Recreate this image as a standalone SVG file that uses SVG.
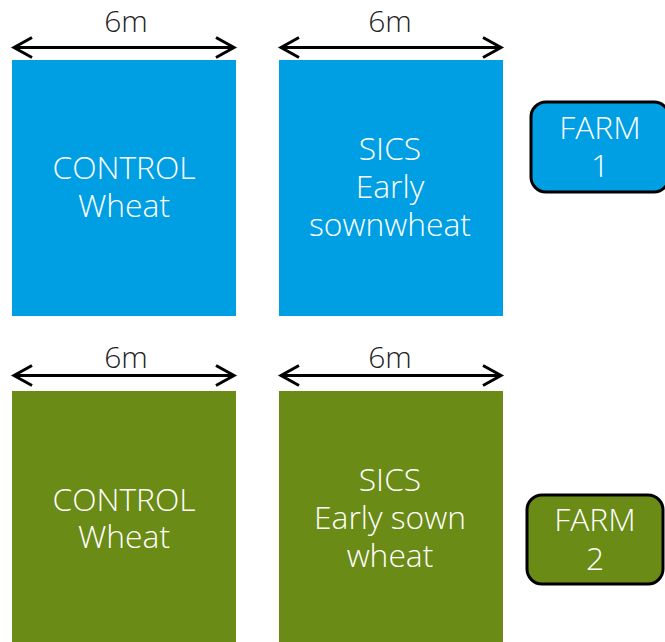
<svg xmlns="http://www.w3.org/2000/svg" width="665" height="642" viewBox="0 0 665 642">
<defs>
<marker id="chev" viewBox="-20 -12 24 24" markerWidth="24" markerHeight="24" refX="0" refY="0" orient="auto-start-reverse" markerUnits="userSpaceOnUse">
<path d="M-18,-10 L0,0 L-18,10" fill="none" stroke="#000" stroke-width="3" stroke-linejoin="miter"/>
</marker>
</defs>
<style>
.blue{fill:#009FE3}
.green{fill:#6A8B16}
.t{font-family:"Open Sans","Noto Sans","Liberation Sans",sans-serif;font-weight:300;font-size:31.8px;fill:#fff;text-anchor:middle}
.dim{font-family:"Open Sans","Noto Sans","Liberation Sans",sans-serif;font-weight:300;font-size:30px;fill:#222;text-anchor:middle}
.arr{stroke:#000;stroke-width:3;fill:none;marker-start:url(#chev);marker-end:url(#chev)}
.farm{stroke:#000;stroke-width:3}
</style>
<rect width="665" height="642" fill="#fff"/>
<g id="connectors">
<line class="arr" x1="14" y1="47.5" x2="234" y2="47.5"/>
<line class="arr" x1="281" y1="47.5" x2="501" y2="47.5"/>
<line class="arr" x1="14" y1="375.5" x2="234" y2="375.5"/>
<line class="arr" x1="281" y1="375.5" x2="501" y2="375.5"/>
</g>
<g id="dim-labels">
<text class="dim" x="126" y="32">6m</text>
<text class="dim" x="390" y="32">6m</text>
<text class="dim" x="126" y="368">6m</text>
<text class="dim" x="390" y="368">6m</text>
</g>
<g id="farm1-control">
<rect class="blue" x="12" y="60" width="224" height="256"/>
<text class="t" x="124" y="179">CONTROL</text>
<text class="t" x="124" y="217">Wheat</text>
</g>
<g id="farm1-sics">
<rect class="blue" x="279" y="60" width="224" height="256"/>
<text class="t" x="390" y="160">SICS</text>
<text class="t" x="390" y="198">Early</text>
<text class="t" x="390" y="236">sownwheat</text>
</g>
<g id="farm1-label">
<rect class="blue farm" x="531" y="102" width="138" height="90" rx="15"/>
<text class="t" x="600" y="139">FARM</text>
<text class="t" x="600" y="177">1</text>
</g>
<g id="farm2-control">
<rect class="green" x="12" y="391" width="224" height="251"/>
<text class="t" x="124" y="511">CONTROL</text>
<text class="t" x="124" y="548">Wheat</text>
</g>
<g id="farm2-sics">
<rect class="green" x="279" y="391" width="224" height="251"/>
<text class="t" x="390" y="491">SICS</text>
<text class="t" x="390" y="529">Early sown</text>
<text class="t" x="390" y="567">wheat</text>
</g>
<g id="farm2-label">
<rect class="green farm" x="527" y="495" width="136" height="89" rx="15"/>
<text class="t" x="595" y="531">FARM</text>
<text class="t" x="595" y="570">2</text>
</g>
</svg>
